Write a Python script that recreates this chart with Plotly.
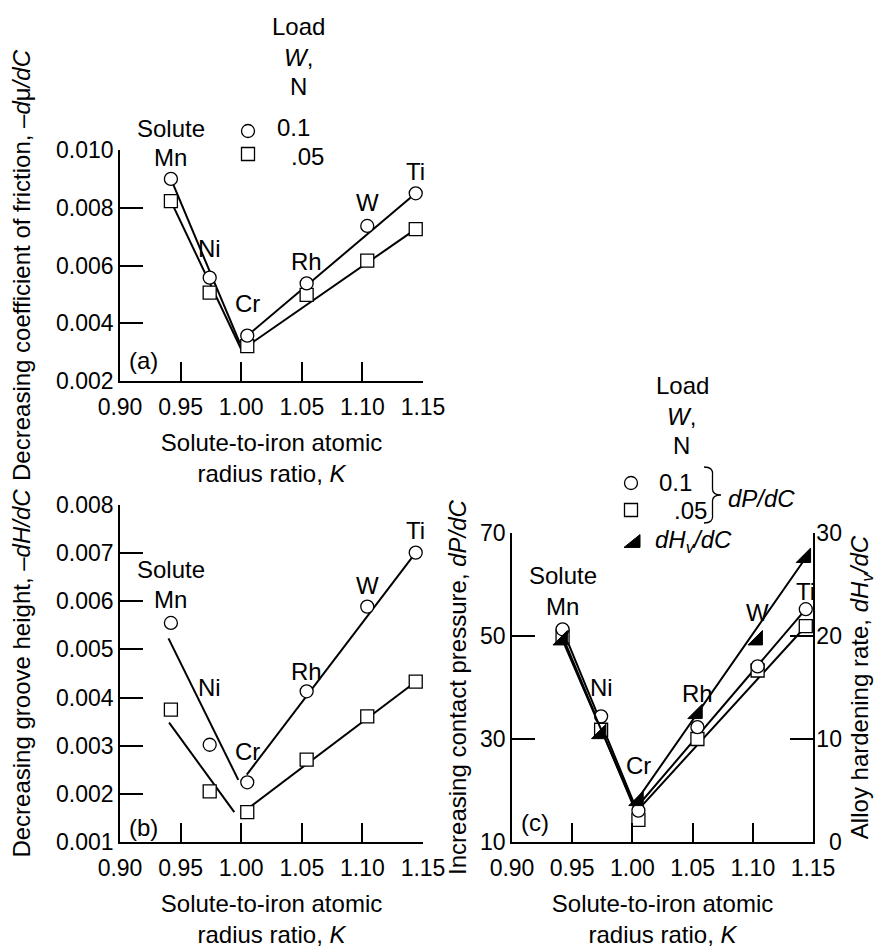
import plotly.graph_objects as go

# ---------------- data ----------------
elements = ["Mn", "Ni", "Cr", "Rh", "W", "Ti"]
radius_ratio = [0.942, 0.974, 1.005, 1.054, 1.104, 1.144]

x_ticks = [0.90, 0.95, 1.00, 1.05, 1.10, 1.15]
x_ticktext = ["0.90", "0.95", "1.00", "1.05", "1.10", "1.15"]

# (a) decreasing coefficient of friction, -dmu/dC
fric_load_01 = [0.0090, 0.00558, 0.00357, 0.00538, 0.00737, 0.0085]
fric_load_005 = [0.00823, 0.00506, 0.00321, 0.00498, 0.00617, 0.00726]
fric_fit_01_k = [0.942, 0.999, None, 1.005, 1.144]
fric_fit_01_v = [0.0090, 0.0033, None, 0.00357, 0.0085]
fric_fit_005_k = [0.942, 1.000, None, 1.005, 1.144]
fric_fit_005_v = [0.00823, 0.0031, None, 0.00321, 0.00726]
fric_ticks = [0.002, 0.004, 0.006, 0.008, 0.010]
fric_ticktext = ["0.002", "0.004", "0.006", "0.008", "0.010"]

# (b) decreasing groove height, -dH/dC
groove_load_01 = [0.00555, 0.00302, 0.00224, 0.00413, 0.00589, 0.00701]
groove_load_005 = [0.00375, 0.00205, 0.00162, 0.00271, 0.00361, 0.00433]
groove_fit_01_k = [0.940, 0.9976, None, 1.0046, 1.144]
groove_fit_01_v = [0.00523, 0.00229, None, 0.00240, 0.00701]
groove_fit_005_k = [0.9405, 0.9943, None, 1.0063, 1.144]
groove_fit_005_v = [0.00348, 0.00162, None, 0.00171, 0.00433]
groove_ticks = [0.001, 0.002, 0.003, 0.004, 0.005, 0.006, 0.007, 0.008]
groove_ticktext = ["0.001", "0.002", "0.003", "0.004", "0.005", "0.006", "0.007", "0.008"]

# (c) increasing contact pressure dP/dC and alloy hardening rate dHv/dC
press_load_01 = [51.3, 34.4, 16.1, 32.3, 44.1, 55.2]
press_load_005 = [49.9, 31.8, 14.3, 30.0, 43.3, 51.9]
hard_rate = [19.6, 10.5, 4.0, 12.45, 19.6, 27.6]
press_fit_01_k = [0.942, 1.003, 1.144]
press_fit_01_v = [51.3, 16.6, 55.2]
press_fit_005_k = [0.942, 1.003, 1.144]
press_fit_005_v = [49.9, 15.8, 51.9]
hard_fit_k = [0.942, 1.001, 1.144]
hard_fit_v = [19.6, 3.6, 27.6]
press_ticks = [10, 30, 50, 70]
press_ticktext = ["10", "30", "50", "70"]
hard_ticks = [0, 10, 20, 30]
hard_ticktext = ["\u00a0\u00a00", "10", "20", "30"]

# ---------------- layout helpers ----------------
W, H = 881, 949
FONT = "Liberation Sans, Arial, Helvetica, sans-serif"
TICK_SIZE = 23
TEXT_SIZE = 24


def pxx(x):
    return x / W


def pxy(y):
    return 1 - y / H


dom_x_ab = [pxx(120), pxx(423)]
dom_y_a = [pxy(381), pxy(150)]
dom_y_b = [pxy(842), pxy(505)]
dom_x_c = [pxx(512), pxx(813)]
dom_y_c = [pxy(842), pxy(533)]

label_shift_a = [21, 29, 32, 22, 23, 22]
label_shift_b = [23, 57, 31, 20, 21, 22]
label_shift_c = [23, 29, 45, 34, 54, 18]

fig = go.Figure()

line_style = dict(color="black", width=2)
circ = dict(symbol="circle", size=13, color="white", line=dict(color="black", width=1.3))
sq = dict(symbol="square", size=13, color="white", line=dict(color="black", width=1.3))
tri = dict(symbol="triangle-se", size=16, color="black", line=dict(color="black", width=1))


def add_lines(xs, ys, xa, ya):
    fig.add_trace(go.Scatter(x=xs, y=ys, xaxis=xa, yaxis=ya, mode="lines",
                             line=line_style, showlegend=False, hoverinfo="skip",
                             connectgaps=False))


def add_markers(ys, marker, xa, ya, name):
    fig.add_trace(go.Scatter(x=radius_ratio, y=ys, xaxis=xa, yaxis=ya, mode="markers",
                             marker=marker, showlegend=False, name=name,
                             text=elements, cliponaxis=False))


# panel (a)
add_lines(fric_fit_01_k, fric_fit_01_v, "x", "y")
add_lines(fric_fit_005_k, fric_fit_005_v, "x", "y")
add_markers(fric_load_005, sq, "x", "y", "0.05 N")
add_markers(fric_load_01, circ, "x", "y", "0.1 N")

# panel (b)
add_lines(groove_fit_01_k, groove_fit_01_v, "x2", "y2")
add_lines(groove_fit_005_k, groove_fit_005_v, "x2", "y2")
add_markers(groove_load_005, sq, "x2", "y2", "0.05 N")
add_markers(groove_load_01, circ, "x2", "y2", "0.1 N")

# panel (c)
add_lines(press_fit_01_k, press_fit_01_v, "x3", "y3")
add_lines(press_fit_005_k, press_fit_005_v, "x3", "y3")
add_lines(hard_fit_k, hard_fit_v, "x3", "y4")
add_markers(press_load_005, sq, "x3", "y3", "0.05 N")
add_markers(press_load_01, circ, "x3", "y3", "0.1 N")
add_markers(hard_rate, tri, "x3", "y4", "dHv/dC")

tickfont = dict(family=FONT, size=TICK_SIZE, color="black")
xtitle = "Solute-to-iron atomic<br>radius ratio, <i>K</i>"


def xaxis(domain, anchor):
    return dict(domain=domain, anchor=anchor, range=[0.9, 1.15], tickvals=x_ticks,
                ticktext=x_ticktext, ticks="inside", ticklen=19, tickwidth=1.5,
                tickcolor="black", showline=True, linecolor="black", linewidth=1.5,
                showgrid=False, zeroline=False, tickfont=tickfont, automargin=False,
                ticklabelstandoff=5,
                title=dict(text=xtitle, font=dict(family=FONT, size=TEXT_SIZE, color="black"),
                           standoff=15))


def yaxis(domain, anchor, rng, tv, tt, title, standoff, side="left", overlaying=None,
          label_standoff=0):
    d = dict(domain=domain, anchor=anchor, range=rng, tickvals=tv, ticktext=tt,
             ticks="inside", ticklen=23, tickwidth=1.5, tickcolor="black",
             showline=True, linecolor="black", linewidth=1.5, showgrid=False,
             zeroline=False, tickfont=tickfont, automargin=False, side=side,
             ticklabelstandoff=label_standoff,
             title=dict(text=title, font=dict(family=FONT, size=TEXT_SIZE, color="black"),
                        standoff=standoff))
    if overlaying:
        d["overlaying"] = overlaying
    return d


fig.update_layout(
    width=W, height=H, margin=dict(l=0, r=0, t=0, b=0),
    paper_bgcolor="white", plot_bgcolor="rgba(0,0,0,0)",
    font=dict(family=FONT, size=TEXT_SIZE, color="black"),
    xaxis=xaxis(dom_x_ab, "y"),
    xaxis2=xaxis(dom_x_ab, "y2"),
    xaxis3=xaxis(dom_x_c, "y3"),
    yaxis=yaxis(dom_y_a, "x", [0.002, 0.010], fric_ticks, fric_ticktext,
                "Decreasing coefficient of friction, –<i>d</i>μ<i>/dC</i>", 19),
    yaxis2=yaxis(dom_y_b, "x2", [0.001, 0.008], groove_ticks, groove_ticktext,
                 "Decreasing groove height, –<i>dH/dC</i>", 19),
    yaxis3=yaxis(dom_y_c, "x3", [10, 70], press_ticks, press_ticktext,
                 "Increasing contact pressure, <i>dP/dC</i>", 7),
    yaxis4=yaxis(dom_y_c, "x3", [0, 30], hard_ticks, hard_ticktext,
                 "Alloy hardening rate, <i>dH<sub>v</sub>/dC</i>", 10,
                 side="right", overlaying="y3", label_standoff=-3),
)

annotations = []


def txt(x, y, text, xref="paper", yref="paper", yshift=0, size=TEXT_SIZE, xanchor="center"):
    annotations.append(dict(x=x, y=y, xref=xref, yref=yref, text=text, showarrow=False,
                            yshift=yshift, xanchor=xanchor, yanchor="middle",
                            font=dict(family=FONT, size=size, color="black")))


# element labels
for xr, yr, vals, shifts, sol_gap in [("x", "y", fric_load_01, label_shift_a, 29),
                                      ("x2", "y2", groove_load_01, label_shift_b, 30),
                                      ("x3", "y3", press_load_01, label_shift_c, 31)]:
    for k, v, name, s in zip(radius_ratio, vals, elements, shifts):
        txt(k, v, name, xr, yr, yshift=s)
    txt(radius_ratio[0], vals[0], "Solute", xr, yr, yshift=shifts[0] + sol_gap)

# panel letters
txt(pxx(143), pxy(360), "(a)")
txt(pxx(143), pxy(827), "(b)")
txt(pxx(535), pxy(822), "(c)")

# legend (a)
txt(pxx(298), pxy(27), "Load")
txt(pxx(298), pxy(57), "<i>W</i>,")
txt(pxx(298), pxy(86), "N")
txt(pxx(293), pxy(127), "0.1")
txt(pxx(307), pxy(157), ".05")

# legend (c)
txt(pxx(682), pxy(386), "Load")
txt(pxx(681), pxy(416), "<i>W</i>,")
txt(pxx(681), pxy(445), "N")
txt(pxx(675), pxy(482), "0.1")
txt(pxx(690), pxy(510), ".05")
txt(pxx(653), pxy(541), "<i>dH<sub>v</sub>/dC</i>", xanchor="left")
txt(pxx(726), pxy(498), "<i>dP/dC</i>", xanchor="left")

fig.update_layout(annotations=annotations)

# legend keys and brace drawn as shapes (paper coordinates)
shapes = []


def key_circle(cx, cy, r=6.5):
    shapes.append(dict(type="circle", xref="paper", yref="paper",
                       x0=pxx(cx - r), x1=pxx(cx + r), y0=pxy(cy + r), y1=pxy(cy - r),
                       line=dict(color="black", width=1.3), fillcolor="white"))


def key_square(cx, cy, r=6.5):
    shapes.append(dict(type="rect", xref="paper", yref="paper",
                       x0=pxx(cx - r), x1=pxx(cx + r), y0=pxy(cy + r), y1=pxy(cy - r),
                       line=dict(color="black", width=1.3), fillcolor="white"))


def key_triangle(cx, cy, r=8):
    path = "M {} {} L {} {} L {} {} Z".format(
        pxx(cx - r), pxy(cy + r * 0.8), pxx(cx + r), pxy(cy + r * 0.8), pxx(cx + r), pxy(cy - r * 0.8))
    shapes.append(dict(type="path", xref="paper", yref="paper", path=path,
                       line=dict(color="black", width=1), fillcolor="black"))


def brace(x0, ytop, ybot, xtip):
    ym = (ytop + ybot) / 2
    xm = (x0 + xtip) / 2
    p = ("M {} {} Q {} {} {} {} L {} {} Q {} {} {} {} "
         "Q {} {} {} {} L {} {} Q {} {} {} {}").format(
        pxx(x0), pxy(ytop),
        pxx(xm + 1), pxy(ytop), pxx(xm), pxy(ytop + 8),
        pxx(xm), pxy(ym - 6),
        pxx(xm), pxy(ym), pxx(xtip), pxy(ym),
        pxx(xm), pxy(ym), pxx(xm), pxy(ym + 6),
        pxx(xm), pxy(ybot - 8),
        pxx(xm + 1), pxy(ybot), pxx(x0), pxy(ybot))
    shapes.append(dict(type="path", xref="paper", yref="paper", path=p,
                       line=dict(color="black", width=1.3)))


key_circle(248, 131)
key_square(248, 154)
key_circle(631, 483)
key_square(631, 510)
key_triangle(632, 541)
brace(704, 467, 523, 721)

fig.update_layout(shapes=shapes)

fig.write_html("out.html")
